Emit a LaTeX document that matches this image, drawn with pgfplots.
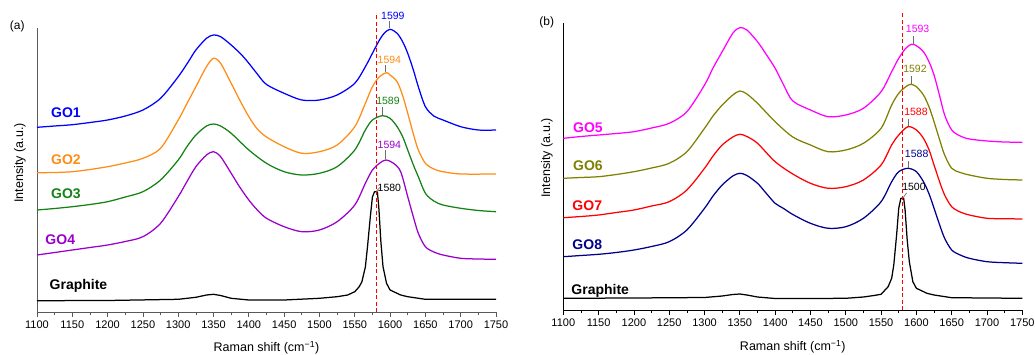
\documentclass[border=0pt]{standalone}
\usepackage{pgfplots}
\pgfplotsset{compat=1.18}
\usepackage{fontspec}
\setmainfont{Liberation Sans}
\definecolor{cA}{RGB}{0,0,255}
\definecolor{cB}{RGB}{255,140,20}
\definecolor{cC}{RGB}{20,130,20}
\definecolor{cD}{RGB}{153,0,204}
\definecolor{cE}{RGB}{255,0,255}
\definecolor{cF}{RGB}{128,128,0}
\definecolor{cG}{RGB}{255,0,0}
\definecolor{cH}{RGB}{0,0,139}
\definecolor{tickgray}{RGB}{110,110,110}
\tikzset{
  glab/.style={anchor=west, font=\bfseries\fontsize{14}{16}\selectfont},
  plab/.style={font=\fontsize{10.5}{12}\selectfont},
  sm/.style={smooth, tension=0.5},
}
\pgfplotsset{
  ramanstyle/.style={
    scale only axis, width=459pt,
    xmin=1100, xmax=1750, ymin=0,
    axis x line*=bottom, axis y line*=left,
    axis line style={-, line width=0.8pt},
    xtick distance=50, minor x tick num=1,
    ytick=\empty,
    tick align=outside, major tick length=5pt, minor tick length=3pt,
    /pgf/number format/1000 sep={},
    /pgf/number format/assume math mode=true,
    xticklabel style={font=\fontsize{11}{13}\selectfont},
    xlabel={Raman shift (cm\textsuperscript{−1})},
    ylabel={Intensity (a.u.)},
    label style={font=\fontsize{12.5}{14}\selectfont},
    clip=false,
    every axis plot/.append style={line width=1.25pt, line join=round},
  },
}
\begin{document}
\begin{tikzpicture}
\useasboundingbox (0,0) rectangle (1035pt,354pt);
% ---------------- panel (a) ----------------
\begin{axis}[ramanstyle, at={(37pt,42pt)}, anchor=south west, height=284pt, ymax=284,
  axis line style={draw=black!65}, tick style={black!65, line width=0.7pt},
  xlabel style={at={(axis description cs:0.5,-0.127)}, anchor=center},
  ylabel style={at={(axis description cs:-0.037,0.525)}, anchor=center}]
\addplot[cA, sm] table {
1100 184.7
1125 186
1150 187.3
1175 189.5
1200 192
1225 196
1250 202
1275 213.7
1300 235.3
1315 251
1325 262
1340 273.7
1350 277
1360 275.3
1375 267
1390 257
1400 248.7
1412 238
1425 227.5
1450 218.7
1475 212
1500 212
1525 217
1550 228.7
1565 245.3
1575 258.7
1585 272
1592 279
1600 282.7
1610 278.7
1618 270
1625 258.7
1633 242
1640 225.3
1650 205.3
1662 196
1675 192
1700 185.3
1725 182
1750 182
};
\addplot[cB, sm] table {
1100 139.3
1125 139.5
1150 140.3
1175 142.5
1200 145.3
1225 149
1250 153.7
1275 163.7
1300 192
1312 208
1325 225.3
1340 245.3
1350 253.7
1360 248.7
1375 228.7
1387 212
1400 195.3
1412 183
1425 175
1450 165.3
1475 158.7
1500 160.3
1525 167
1550 185.3
1565 208.7
1575 225.3
1585 235.3
1595 239.3
1600 237
1610 230.3
1618 216
1625 198.7
1633 178
1640 162
1650 148.7
1662 143
1675 140.3
1700 138
1750 138
};
\addplot[cC, sm] table {
1100 102
1125 103.5
1150 105.3
1175 107.5
1200 110.3
1225 115
1250 120.3
1275 132
1300 152
1312 165
1325 177
1340 186
1350 188
1360 186
1375 178.7
1400 162
1425 148.7
1450 140.3
1475 137
1500 138.7
1525 145.3
1550 162
1565 182
1575 192
1589 196.3
1600 193.7
1610 185.3
1618 175
1625 162
1633 147
1640 135.3
1650 118.7
1662 111
1675 107
1700 103.7
1725 101.5
1750 100.3
};
\addplot[cD, sm] table {
1100 57
1125 59.5
1150 62
1175 64.5
1200 67
1225 70.5
1250 75.3
1275 88.7
1300 115.3
1312 130
1325 145.3
1340 157
1350 160.3
1360 155.3
1375 138.7
1387 125
1400 112
1412 102
1425 93.7
1450 85.3
1475 80.3
1500 82
1525 90.3
1550 107
1565 128.7
1575 142
1585 148.7
1594 152
1605 148.7
1615 140.3
1625 115.3
1633 95
1640 78.7
1650 65.3
1662 60
1675 57
1700 53.7
1725 53
1750 52.7
};
\addplot[black] table {
1100 11.3
1200 11.5
1300 12.7
1325 14.7
1340 17
1350 17.7
1360 16.5
1375 13.7
1400 12
1450 12
1500 13.7
1525 15.3
1540 17
1550 20.3
1556 25
1560 30
1565 45
1568 65
1572 95
1575 115
1578 120.3
1582 120
1584 105
1587 70
1590 45.3
1595 28.7
1600 22
1615 17
1625 15.3
1650 12.7
1750 12.7
};
\draw[red, dashed, dash pattern=on 4pt off 2.5pt, line width=0.9pt] (axis cs:1580,0) -- (axis cs:1580,299);
\draw[tickgray, line width=0.7pt] (axis cs:1599,284) -- (axis cs:1599,291);
\draw[tickgray, line width=0.7pt] (axis cs:1594,240) -- (axis cs:1594,247);
\draw[tickgray, line width=0.7pt] (axis cs:1589,197) -- (axis cs:1589,205);
\draw[tickgray, line width=0.7pt] (axis cs:1594,153) -- (axis cs:1594,162);
\draw[tickgray, line width=0.7pt] (axis cs:1581,121) -- (axis cs:1586,125);
\node[plab, text=cA] at (axis cs:1604,296) {1599};
\node[plab, text=cB] at (axis cs:1599,252) {1594};
\node[plab, text=cC] at (axis cs:1597,211) {1589};
\node[plab, text=cD] at (axis cs:1599,167) {1594};
\node[plab, text=black] at (axis cs:1599,124.3) {1580};
\node[glab, text=cA] at (axis cs:1115,199.3) {GO1};
\node[glab, text=cB] at (axis cs:1115,152) {GO2};
\node[glab, text=cC] at (axis cs:1115,118.7) {GO3};
\node[glab, text=cD] at (axis cs:1107,72.7) {GO4};
\node[glab, text=black] at (axis cs:1113,26) {Graphite};
\node[font=\fontsize{12}{14}\selectfont] at (axis cs:1072,286) {(a)};
\end{axis}
% ---------------- panel (b) ----------------
\begin{axis}[ramanstyle, at={(563.3pt,44pt)}, anchor=south west, height=287pt, ymax=287,
  axis line style={draw=black}, tick style={black, line width=0.7pt},
  xlabel style={at={(axis description cs:0.5,-0.128)}, anchor=center},
  ylabel style={at={(axis description cs:-0.036,0.53)}, anchor=center}]
\addplot[cE, sm] table {
1100 171.7
1125 173.5
1150 175
1175 176.5
1200 178.3
1225 182
1250 186.7
1275 198.3
1300 225
1312 242
1325 258.3
1340 276.7
1350 282.3
1360 280
1375 268.3
1387 256
1400 241.7
1412 225
1425 209
1450 200
1475 193.3
1500 195
1525 201.7
1550 218.3
1565 238.3
1575 251.7
1585 261.7
1593 265.7
1600 264.3
1610 258.3
1618 248
1625 235
1633 214
1640 195
1650 180
1662 174
1675 171
1700 169
1725 168
1750 167.7
};
\addplot[cF, sm] table {
1100 131.7
1125 132.5
1150 133.3
1175 135.5
1200 138.3
1225 142
1250 146.7
1275 158.3
1300 181.7
1312 194
1325 205
1340 215
1350 219
1360 216
1375 206.7
1400 188.3
1425 173
1450 165
1475 158.3
1500 160
1525 166.7
1550 181.7
1565 205
1575 216.7
1585 223.3
1592 225.7
1600 223.3
1610 215
1618 203
1625 188.3
1633 170
1640 155
1650 141.7
1662 137.5
1675 135
1700 131.7
1725 130.5
1750 130
};
\addplot[cG, sm] table {
1100 92.3
1125 93.5
1150 95
1175 97.5
1200 100
1225 104
1250 108.3
1275 120
1300 141.7
1312 154
1325 165
1340 173
1350 175.7
1360 173.5
1375 166.7
1400 148.3
1425 136
1450 126.7
1475 121.7
1500 123.3
1525 130
1550 145
1565 165
1575 175
1588 183.3
1600 180
1610 171.7
1618 160
1625 145
1633 128
1640 115
1650 103.3
1662 98
1675 95
1700 91.7
1725 91.3
1750 91
};
\addplot[cH, sm] table {
1100 53.3
1125 54.5
1150 55.7
1175 57.5
1200 60
1225 63.5
1250 68.3
1275 80
1300 101.7
1312 114
1325 125
1340 134
1350 136.7
1360 134.5
1375 126.7
1387 117
1400 106.7
1412 101.5
1425 95.5
1450 86.7
1475 81.7
1500 83.3
1525 91.7
1550 108.3
1565 128.3
1575 138.3
1588 141.7
1600 138.3
1610 128.3
1618 116
1625 101.7
1633 85
1640 71.7
1650 60
1662 55
1675 51.7
1700 48.3
1725 47.3
1750 46.7
};
\addplot[black] table {
1100 11.7
1200 12
1300 12.5
1325 14
1340 15.5
1350 16
1360 15
1375 13
1400 11.5
1450 11.5
1500 11.7
1525 13
1540 14.5
1550 15.7
1560 23.3
1565 31.7
1568 45
1572 75
1575 101.7
1578 111.7
1582 111.7
1584 100
1587 70
1590 48.3
1595 28.3
1600 21.7
1615 16.7
1625 15
1650 12.3
1750 11.7
};
\draw[red, dashed, dash pattern=on 4pt off 2.5pt, line width=0.9pt] (axis cs:1580,0) -- (axis cs:1580,296.7);
\draw[tickgray, line width=0.7pt] (axis cs:1596,266) -- (axis cs:1596,274);
\draw[tickgray, line width=0.7pt] (axis cs:1593,226) -- (axis cs:1593,234);
\draw[tickgray, line width=0.7pt] (axis cs:1588,184) -- (axis cs:1588,191);
\draw[tickgray, line width=0.7pt] (axis cs:1588,142) -- (axis cs:1588,149);
\draw[tickgray, line width=0.7pt] (axis cs:1581,112) -- (axis cs:1586,117);
\node[plab, text=cE] at (axis cs:1601.8,280.7) {1593};
\node[plab, text=cF] at (axis cs:1598,241) {1592};
\node[plab, text=cG] at (axis cs:1599.4,198) {1588};
\node[plab, text=cH] at (axis cs:1600.4,156) {1588};
\node[plab, text=black] at (axis cs:1596.6,122.7) {1500};
\node[glab, text=cE] at (axis cs:1109,182.7) {GO5};
\node[glab, text=cF] at (axis cs:1109,144.3) {GO6};
\node[glab, text=cG] at (axis cs:1108,104.3) {GO7};
\node[glab, text=cH] at (axis cs:1108,65) {GO8};
\node[glab, text=black] at (axis cs:1106.5,18.7) {Graphite};
\node[font=\fontsize{12}{14}\selectfont] at (axis cs:1076.5,287.3) {(b)};
\end{axis}
\end{tikzpicture}
\end{document}
